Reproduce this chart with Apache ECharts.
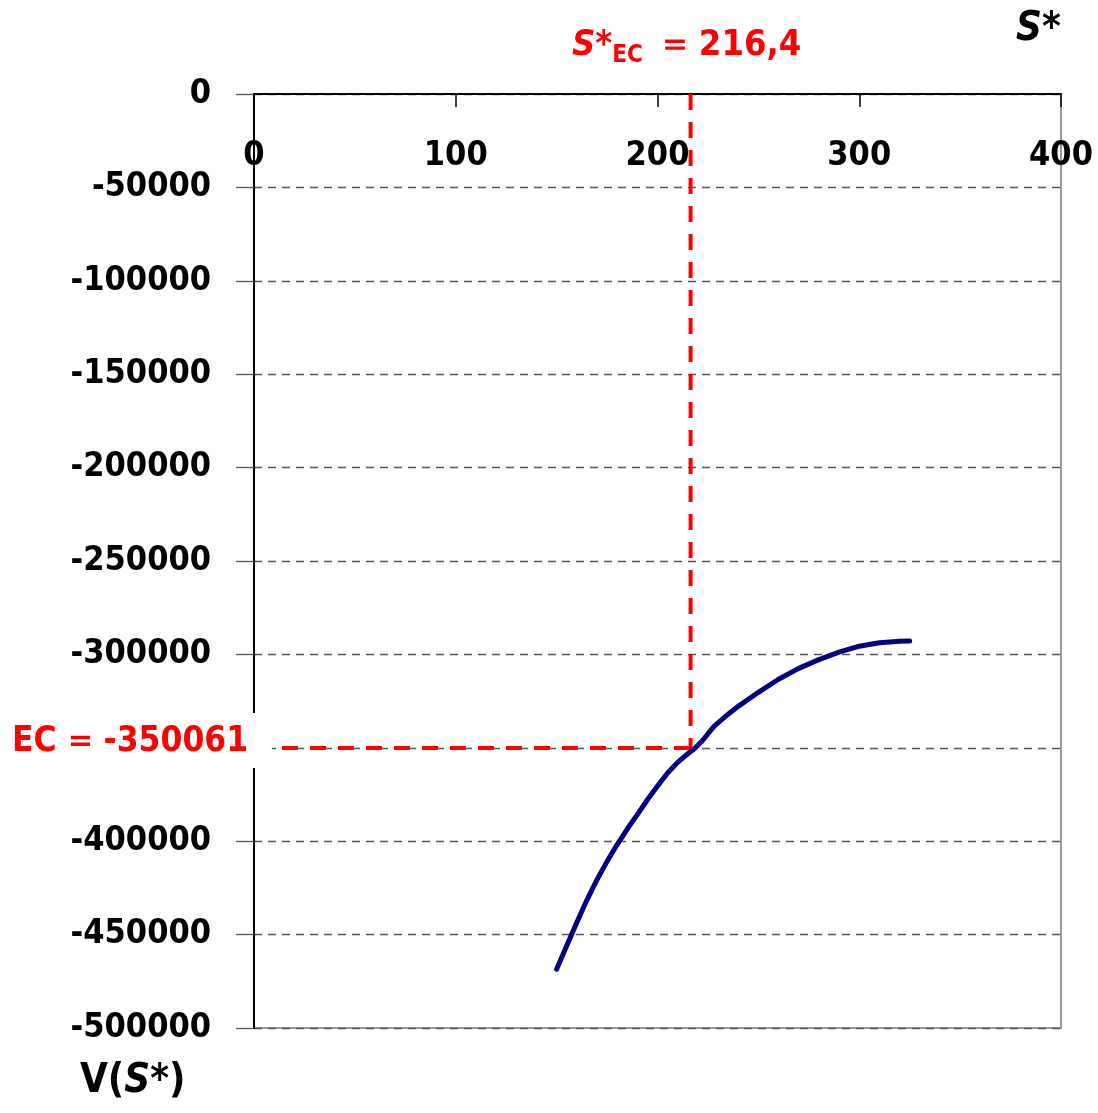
<!DOCTYPE html>
<html>
<head>
<meta charset="utf-8">
<script src="https://cdn.jsdelivr.net/npm/echarts@6/dist/echarts.min.js"></script>
<style>
  html, body { margin: 0; padding: 0; background: #fff; }
  #chart { width: 1098px; height: 1113px; }
</style>
</head>
<body>
<div id="chart"></div>
<script>
// S* values and V(S*)
const sValues = [150, 155, 160, 165, 170, 175, 180, 185, 190, 195, 200, 205, 210, 215, 218, 222, 228, 235, 240, 250, 260, 270, 280, 290, 300, 310, 320, 325];
const vValues = [-468500, -456000, -443500, -431500, -420600, -410800, -401800, -393500, -385800, -377800, -370500, -363500, -357800, -353200, -350800, -346500, -338500, -332000, -327800, -320300, -313300, -307500, -302800, -298800, -295600, -293800, -292900, -292800];
const xTicks = [0, 100, 200, 300, 400];
const yMin = -500000, yMax = 0, yStep = 50000;
const ecS = 216.4;
const ecV = -350061;

const FONT = '"DejaVu Sans Condensed", "Liberation Sans Narrow", "DejaVu Sans", sans-serif';

const chart = echarts.init(document.getElementById('chart'));

const curve = sValues.map((s, i) => [s, vValues[i]]);
const redStyle = { color: '#ff0000', width: 4, type: [16, 12] };

chart.setOption({
  animation: false,
  grid: {
    left: 254, right: 37, top: 94, bottom: 85,
    show: true, borderColor: '#9a9a9a', borderWidth: 2, backgroundColor: 'transparent'
  },
  xAxis: {
    type: 'value',
    position: 'top',
    min: xTicks[0], max: xTicks[xTicks.length - 1], interval: 100,
    axisLine: { show: true, onZero: false, lineStyle: { color: '#000', width: 2 } },
    axisTick: { show: true, inside: true, length: 13, lineStyle: { color: '#000', width: 1.5 } },
    axisLabel: {
      inside: true, margin: 45, color: '#000',
      fontFamily: FONT, fontWeight: 'bold', fontSize: 34
    },
    splitLine: { show: false }
  },
  yAxis: {
    type: 'value',
    min: yMin, max: yMax, interval: yStep,
    axisLine: { show: true, onZero: false, lineStyle: { color: '#000', width: 2 } },
    axisTick: { show: true, length: 18, lineStyle: { color: '#555', width: 1.3 } },
    axisLabel: {
      margin: 43, color: '#000', padding: [6, 0, 0, 0],
      fontFamily: FONT, fontWeight: 'bold', fontSize: 34,
      formatter: v => String(v)
    },
    splitLine: { show: true, lineStyle: { color: '#555', width: 1.3, type: [8, 6] } }
  },
  series: [
    {
      type: 'line',
      data: curve,
      symbol: 'none',
      smooth: false,
      lineStyle: { color: '#000080', width: 5, cap: 'round', join: 'round' },
      z: 3
    },
    {
      type: 'line',
      data: [[ecS, yMax], [ecS, ecV]],
      symbol: 'none',
      lineStyle: redStyle,
      z: 4
    },
    {
      type: 'line',
      data: [[0, ecV], [ecS, ecV]],
      symbol: 'none',
      lineStyle: redStyle,
      z: 4
    }
  ],
  graphic: [
    {
      type: 'rect', z: 100,
      shape: { x: 0, y: 713, width: 272, height: 55 },
      style: { fill: '#fff' }
    },
    {
      type: 'text', z: 101, left: 12, top: 724,
      style: {
        text: '{m|EC}{e|＝}{m|-350061}',
        rich: {
          m: { fill: '#ff0000', fontFamily: FONT, fontWeight: 'bold', fontSize: 35 },
          e: { fill: '#ff0000', fontFamily: FONT, fontWeight: 'bold', fontSize: 35, padding: [0, 6, 0, 6] }
        }
      }
    },
    {
      type: 'text', z: 101, left: 572, top: 28,
      style: {
        text: '{s|S}{m|*}{sub|EC}{e|＝}{m|216,4}',
        rich: {
          s: { fill: '#ff0000', fontFamily: FONT, fontWeight: 'bold', fontStyle: 'italic', fontSize: 36 },
          m: { fill: '#ff0000', fontFamily: FONT, fontWeight: 'bold', fontSize: 36 },
          e: { fill: '#ff0000', fontFamily: FONT, fontWeight: 'bold', fontSize: 36, padding: [0, 6, 0, 14] },
          sub: { fill: '#ff0000', fontFamily: FONT, fontWeight: 'bold', fontSize: 24, padding: [20, 0, 0, 0] }
        }
      }
    },
    {
      type: 'text', z: 101, left: 1016, top: 10,
      style: {
        text: '{s|S}{m|*}',
        rich: {
          s: { fill: '#000', fontFamily: FONT, fontWeight: 'bold', fontStyle: 'italic', fontSize: 40 },
          m: { fill: '#000', fontFamily: FONT, fontWeight: 'bold', fontSize: 40 }
        }
      }
    },
    {
      type: 'text', z: 101, left: 80, top: 1062,
      style: {
        text: '{m|V(}{s|S}{m|*)}',
        rich: {
          s: { fill: '#000', fontFamily: FONT, fontWeight: 'bold', fontStyle: 'italic', fontSize: 40 },
          m: { fill: '#000', fontFamily: FONT, fontWeight: 'bold', fontSize: 40 }
        }
      }
    }
  ]
});
</script>
</body>
</html>
